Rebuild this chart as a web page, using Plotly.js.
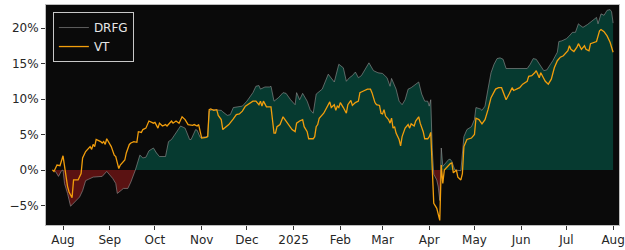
<!DOCTYPE html>
<html>
<head>
<meta charset="utf-8">
<script src="https://cdn.plot.ly/plotly-3.0.1.min.js"></script>
<style>html,body{margin:0;padding:0;background:#fff;}#chart{width:625px;height:250px;}</style>
</head>
<body>
<div id="chart"></div>
<script>
// DRFG cumulative return (%)
const drfgDates = ["2024-07-25","2024-07-27","2024-07-29","2024-07-31","2024-08-01","2024-08-02","2024-08-04","2024-08-06","2024-08-07","2024-08-10","2024-08-12","2024-08-14","2024-08-16","2024-08-18","2024-08-21","2024-08-27","2024-08-30","2024-09-01","2024-09-03","2024-09-05","2024-09-06","2024-09-09","2024-09-10","2024-09-13","2024-09-15","2024-09-18","2024-09-21","2024-09-23","2024-09-25","2024-09-27","2024-09-30","2024-10-02","2024-10-04","2024-10-08","2024-10-10","2024-10-12","2024-10-14","2024-10-16","2024-10-18","2024-10-21","2024-10-24","2024-10-25","2024-10-28","2024-10-29","2024-10-31","2024-11-05","2024-11-06","2024-11-08","2024-11-14","2024-11-15","2024-11-18","2024-11-20","2024-11-22","2024-11-25","2024-11-28","2024-12-01","2024-12-05","2024-12-07","2024-12-09","2024-12-10","2024-12-13","2024-12-16","2024-12-17","2024-12-19","2024-12-22","2024-12-25","2024-12-27","2024-12-30","2025-01-02","2025-01-03","2025-01-05","2025-01-07","2025-01-10","2025-01-12","2025-01-14","2025-01-16","2025-01-20","2025-01-24","2025-01-28","2025-01-31","2025-02-03","2025-02-05","2025-02-07","2025-02-09","2025-02-11","2025-02-13","2025-02-15","2025-02-20","2025-02-23","2025-02-26","2025-03-01","2025-03-04","2025-03-06","2025-03-07","2025-03-10","2025-03-12","2025-03-14","2025-03-16","2025-03-18","2025-03-20","2025-03-23","2025-03-25","2025-03-27","2025-03-29","2025-03-31","2025-04-01","2025-04-02","2025-04-03","2025-04-04","2025-04-06","2025-04-07","2025-04-08","2025-04-09","2025-04-10","2025-04-12","2025-04-14","2025-04-15","2025-04-16","2025-04-18","2025-04-20","2025-04-22","2025-04-24","2025-04-26","2025-04-29","2025-05-01","2025-05-02","2025-05-05","2025-05-06","2025-05-08","2025-05-10","2025-05-12","2025-05-14","2025-05-16","2025-05-18","2025-05-20","2025-05-22","2025-06-05","2025-06-07","2025-06-09","2025-06-11","2025-06-13","2025-06-16","2025-06-18","2025-06-20","2025-06-22","2025-06-25","2025-06-26","2025-06-28","2025-07-01","2025-07-03","2025-07-05","2025-07-07","2025-07-09","2025-07-10","2025-07-12","2025-07-15","2025-07-17","2025-07-19","2025-07-21","2025-07-22","2025-07-24","2025-07-26","2025-07-28","2025-07-30","2025-07-31","2025-08-01"];
const drfgValues = [0.0,-0.2,-0.9,-0.1,0.0,-1.9,-3.3,-5.1,-4.9,-4.3,-3.8,-2.9,-1.5,-1.3,-1.0,-0.9,-0.2,-0.7,-1.2,-1.9,-3.3,-2.8,-2.6,-2.6,-1.7,0.0,2.1,1.7,1.8,2.7,3.1,2.4,1.9,1.9,4.0,4.3,5.0,5.6,6.2,5.9,4.3,4.3,5.7,5.6,4.6,4.7,8.3,8.5,8.4,8.2,7.7,7.8,8.8,8.9,9.0,9.7,10.9,11.8,11.9,11.4,11.7,11.7,11.8,9.7,10.2,10.9,10.8,9.9,9.2,10.9,9.9,10.8,9.7,8.5,8.0,10.7,11.4,13.5,12.4,14.9,14.4,12.5,13.0,13.3,13.8,13.0,13.3,15.1,14.0,13.7,13.6,13.0,11.8,12.9,11.4,9.7,9.2,9.9,11.4,11.6,12.1,12.4,10.7,9.7,9.7,9.0,9.9,2.8,-0.6,-1.4,-2.4,-4.3,3.1,0.5,1.0,1.5,1.5,1.2,0.0,-0.1,-0.1,4.7,5.7,6.1,7.1,8.8,8.6,8.4,9.0,11.4,13.7,14.9,15.7,15.8,15.6,14.3,14.3,14.9,15.7,15.6,14.9,14.0,14.1,14.7,15.4,16.6,18.1,18.2,18.5,18.9,19.4,19.4,20.6,20.4,20.1,20.5,20.8,21.2,21.5,20.6,22.0,21.8,22.5,22.6,22.3,20.7];

// VT cumulative return (%)
const vtDates = ["2024-07-25","2024-07-26","2024-07-28","2024-07-29","2024-07-30","2024-08-01","2024-08-02","2024-08-03","2024-08-04","2024-08-05","2024-08-07","2024-08-08","2024-08-10","2024-08-11","2024-08-13","2024-08-14","2024-08-16","2024-08-19","2024-08-20","2024-08-21","2024-08-22","2024-08-23","2024-08-26","2024-08-27","2024-08-28","2024-08-29","2024-08-30","2024-09-02","2024-09-04","2024-09-05","2024-09-07","2024-09-08","2024-09-11","2024-09-12","2024-09-14","2024-09-15","2024-09-17","2024-09-19","2024-09-20","2024-09-22","2024-09-23","2024-09-25","2024-09-27","2024-09-30","2024-10-01","2024-10-03","2024-10-04","2024-10-06","2024-10-08","2024-10-09","2024-10-12","2024-10-13","2024-10-15","2024-10-17","2024-10-19","2024-10-21","2024-10-23","2024-10-26","2024-10-27","2024-10-29","2024-10-30","2024-11-01","2024-11-04","2024-11-05","2024-11-06","2024-11-07","2024-11-09","2024-11-11","2024-11-12","2024-11-14","2024-11-15","2024-11-17","2024-11-19","2024-11-22","2024-11-24","2024-11-26","2024-11-28","2024-11-30","2024-12-03","2024-12-05","2024-12-07","2024-12-09","2024-12-10","2024-12-11","2024-12-12","2024-12-14","2024-12-17","2024-12-18","2024-12-19","2024-12-20","2024-12-21","2024-12-23","2024-12-25","2024-12-27","2024-12-30","2024-12-31","2025-01-02","2025-01-03","2025-01-05","2025-01-07","2025-01-08","2025-01-10","2025-01-11","2025-01-14","2025-01-15","2025-01-16","2025-01-17","2025-01-18","2025-01-21","2025-01-23","2025-01-25","2025-01-26","2025-01-28","2025-01-29","2025-01-30","2025-01-31","2025-02-01","2025-02-03","2025-02-05","2025-02-06","2025-02-08","2025-02-09","2025-02-11","2025-02-13","2025-02-14","2025-02-16","2025-02-19","2025-02-21","2025-02-22","2025-02-24","2025-02-25","2025-02-27","2025-02-28","2025-03-01","2025-03-02","2025-03-03","2025-03-05","2025-03-06","2025-03-07","2025-03-08","2025-03-09","2025-03-10","2025-03-11","2025-03-12","2025-03-13","2025-03-14","2025-03-16","2025-03-18","2025-03-19","2025-03-20","2025-03-22","2025-03-23","2025-03-25","2025-03-26","2025-03-28","2025-03-29","2025-03-31","2025-04-01","2025-04-02","2025-04-03","2025-04-04","2025-04-06","2025-04-07","2025-04-08","2025-04-09","2025-04-10","2025-04-11","2025-04-13","2025-04-15","2025-04-16","2025-04-17","2025-04-19","2025-04-20","2025-04-22","2025-04-23","2025-04-24","2025-04-26","2025-04-29","2025-05-01","2025-05-02","2025-05-04","2025-05-06","2025-05-08","2025-05-10","2025-05-12","2025-05-15","2025-05-17","2025-05-19","2025-05-21","2025-05-22","2025-05-24","2025-05-26","2025-05-27","2025-05-29","2025-05-31","2025-06-02","2025-06-05","2025-06-06","2025-06-08","2025-06-10","2025-06-11","2025-06-13","2025-06-14","2025-06-16","2025-06-17","2025-06-19","2025-06-21","2025-06-23","2025-06-25","2025-06-27","2025-06-29","2025-07-02","2025-07-03","2025-07-04","2025-07-06","2025-07-08","2025-07-09","2025-07-11","2025-07-13","2025-07-14","2025-07-16","2025-07-17","2025-07-19","2025-07-21","2025-07-23","2025-07-24","2025-07-26","2025-07-28","2025-07-30","2025-08-01"];
const vtValues = [0.0,-0.2,0.7,0.7,0.6,2.0,0.5,-1.4,-2.3,-3.1,-3.9,-1.4,-1.4,-1.4,-0.5,1.7,2.6,3.3,2.9,3.6,3.3,4.3,4.0,3.8,4.0,3.6,4.4,3.3,2.1,1.9,0.2,0.7,1.4,2.4,3.6,3.8,4.0,3.9,5.4,5.3,5.7,5.9,6.9,6.6,6.7,5.9,6.6,6.2,6.4,6.2,6.9,6.6,6.9,6.6,7.5,7.1,6.4,6.3,6.4,6.2,6.4,4.5,4.6,4.7,8.5,8.6,8.4,8.5,7.7,7.1,5.7,6.1,6.4,7.2,7.8,7.9,8.3,9.0,9.4,9.7,9.7,9.2,9.7,9.0,9.7,8.9,8.9,6.9,5.2,5.2,6.1,6.4,7.5,6.9,5.9,5.7,5.4,6.6,6.9,7.1,6.1,5.4,4.4,4.4,4.7,6.1,6.4,7.3,8.0,8.8,9.6,8.8,9.2,8.4,9.0,8.8,9.5,8.8,8.0,9.2,9.8,9.1,9.5,9.7,10.9,11.1,11.4,11.4,10.9,9.5,9.2,9.1,8.0,7.9,8.5,7.6,7.1,6.6,7.3,5.9,6.1,5.2,4.7,4.3,3.4,4.7,5.9,6.4,5.9,6.5,6.2,6.9,7.5,6.6,5.4,4.4,4.4,4.7,5.3,0.0,-4.7,-5.4,-6.2,-7.1,0.7,-1.9,0.0,0.5,0.9,1.0,-0.4,0.0,-1.0,-1.4,-0.5,3.3,4.3,4.5,5.0,7.3,7.1,6.5,7.1,8.5,10.2,11.4,11.6,11.6,10.3,9.9,10.7,11.6,11.2,11.4,11.6,12.1,12.5,13.2,13.3,13.7,14.0,13.0,13.7,12.9,12.5,12.1,12.8,14.4,15.4,15.9,16.1,16.8,17.5,17.0,16.7,17.3,17.8,17.0,17.5,17.0,16.8,17.8,18.0,18.1,19.6,19.8,19.5,18.9,18.0,16.6];

// Axis ticks
const xTickVals = ["2024-08-01","2024-09-01","2024-10-01","2024-11-01","2024-12-01","2025-01-01","2025-02-01","2025-03-01","2025-04-01","2025-05-01","2025-06-01","2025-07-01","2025-08-01"];
const xTickText = ["Aug","Sep","Oct","Nov","Dec","2025","Feb","Mar","Apr","May","Jun","Jul","Aug"];
const yTickVals = [-5,0,5,10,15,20];
const yTickText = ["\u22125%","0%","5%","10%","15%","20%"];

function fmt(ms){
  const d = new Date(ms);
  const p = n => String(n).padStart(2,'0');
  return d.getUTCFullYear()+'-'+p(d.getUTCMonth()+1)+'-'+p(d.getUTCDate())+' '+p(d.getUTCHours())+':'+p(d.getUTCMinutes())+':'+p(d.getUTCSeconds());
}
// split the series into above-zero and below-zero parts for the two-coloured fill
function splitSeries(dates, vals){
  const t = dates.map(s => Date.parse(s+'T00:00:00Z'));
  const pos = {x:[],y:[]}, neg = {x:[],y:[]};
  for (let i=0;i<vals.length;i++){
    if (i>0 && vals[i-1]*vals[i] < 0){
      const f = (0 - vals[i-1])/(vals[i]-vals[i-1]);
      const tc = fmt(t[i-1] + (t[i]-t[i-1])*f);
      pos.x.push(tc); pos.y.push(0);
      neg.x.push(tc); neg.y.push(0);
    }
    const ds = fmt(t[i]);
    pos.x.push(ds); pos.y.push(Math.max(vals[i],0));
    neg.x.push(ds); neg.y.push(Math.min(vals[i],0));
  }
  return {pos, neg};
}
const parts = splitSeries(drfgDates, drfgValues);

const traces = [
  {x: parts.neg.x, y: parts.neg.y, type:'scatter', mode:'lines', fill:'tozeroy',
   fillcolor:'#5a1212', line:{width:0, color:'rgba(0,0,0,0)'}, showlegend:false, hoverinfo:'skip'},
  {x: parts.pos.x, y: parts.pos.y, type:'scatter', mode:'lines', fill:'tozeroy',
   fillcolor:'#063a30', line:{width:0, color:'rgba(0,0,0,0)'}, showlegend:false, hoverinfo:'skip'},
  {x: drfgDates, y: drfgValues, type:'scatter', mode:'lines', name:'DRFG',
   line:{color:'rgba(150,150,150,0.6)', width:1}},
  {x: vtDates, y: vtValues, type:'scatter', mode:'lines', name:'VT',
   line:{color:'#f29e0c', width:1.3}}
];

const layout = {
  width:625, height:250,
  margin:{l:46, r:6, t:5, b:25, pad:0},
  paper_bgcolor:'#ffffff',
  plot_bgcolor:'#0a0a0a',
  font:{family:'DejaVu Sans, sans-serif', size:12, color:'#262626'},
  showlegend:true,
  legend:{x:0.012, y:0.968, xanchor:'left', yanchor:'top',
          bgcolor:'rgba(10,10,10,0.85)', bordercolor:'#c8c8c8', borderwidth:1,
          font:{family:'DejaVu Sans, sans-serif', size:12, color:'#e6e6e6'},
          tracegroupgap:0, itemwidth:30},
  xaxis:{type:'date', range:['2024-07-20 17:00','2025-08-04 22:00'],
         tickvals:xTickVals, ticktext:xTickText, ticks:'outside', ticklen:4, tickcolor:'#333',
         showgrid:false, zeroline:false, showline:true, mirror:true, linecolor:'#bdbdbd', linewidth:1,
         tickfont:{size:12, color:'#262626'}},
  yaxis:{range:[-7.75,23.25], tickvals:yTickVals, ticktext:yTickText, ticks:'outside', ticklen:4, tickcolor:'#333',
         showgrid:false, zeroline:false, showline:true, mirror:true, linecolor:'#bdbdbd', linewidth:1,
         tickfont:{size:12, color:'#262626'}}
};

Plotly.newPlot('chart', traces, layout, {displayModeBar:false, staticPlot:true});
</script>
</body>
</html>
